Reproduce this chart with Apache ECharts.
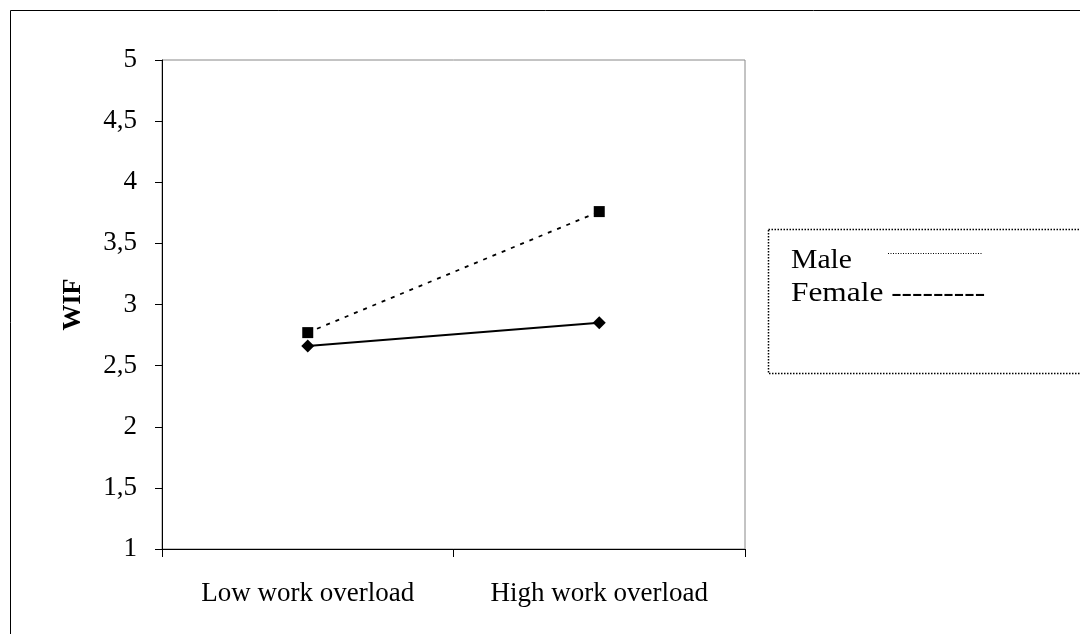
<!DOCTYPE html>
<html>
<head>
<meta charset="utf-8">
<script src="https://cdn.jsdelivr.net/npm/echarts@6/dist/echarts.min.js"></script>
<style>
html, body { margin: 0; padding: 0; background: #fff; }
#chart { width: 1080px; height: 634px; }
</style>
</head>
<body>
<div id="chart"></div>
<script>
const categories = ['Low work overload', 'High work overload'];
const maleValues = [2.66, 2.85];
const femaleValues = [2.77, 3.76];
const yTicks = [1, 1.5, 2, 2.5, 3, 3.5, 4, 4.5, 5];

const font = '"Liberation Serif", "DejaVu Serif", serif';
const chart = echarts.init(document.getElementById('chart'));

const option = {
    animation: false,
    backgroundColor: '#fff',
    grid: {
        left: 162,
        top: 60,
        right: 335,
        bottom: 85,
        show: true,
        borderColor: '#888',
        borderWidth: 1
    },
    xAxis: {
        type: 'category',
        data: categories,
        boundaryGap: true,
        axisLine: { lineStyle: { color: '#000', width: 1 } },
        axisTick: { show: true, length: 8, lineStyle: { color: '#000' } },
        axisLabel: { color: '#000', fontFamily: font, fontSize: 27, margin: 31 },
        splitLine: { show: false }
    },
    yAxis: {
        type: 'value',
        min: 1,
        max: 5,
        interval: 0.5,
        name: 'WIF',
        nameLocation: 'middle',
        nameGap: 76,
        nameTextStyle: { color: '#000', fontFamily: font, fontSize: 26, fontWeight: 'bold' },
        axisLine: { show: true, lineStyle: { color: '#000', width: 1 } },
        axisTick: { show: true, length: 7, lineStyle: { color: '#000' } },
        axisLabel: {
            color: '#000',
            fontFamily: font,
            fontSize: 27,
            margin: 25,
            formatter: v => yTicks.includes(v) ? String(v).replace('.', ',') : ''
        },
        splitLine: { show: false }
    },
    series: [
        {
            name: 'Male',
            type: 'line',
            data: maleValues,
            symbol: 'diamond',
            symbolSize: 13,
            itemStyle: { color: '#000' },
            lineStyle: { color: '#000', width: 2 }
        },
        {
            name: 'Female',
            type: 'line',
            data: femaleValues,
            symbol: 'rect',
            symbolSize: 11,
            itemStyle: { color: '#000' },
            lineStyle: { color: '#000', width: 1.8, type: [4, 6] }
        }
    ],
    graphic: [
        {
            type: 'rect',
            shape: { x: 10.5, y: 10.5, width: 1200, height: 800 },
            style: { fill: 'none', stroke: '#000', lineWidth: 1 },
            silent: true
        },
        {
            type: 'rect',
            shape: { x: 768.5, y: 229.5, width: 400, height: 144 },
            style: { fill: '#fff', stroke: '#000', lineWidth: 1.5, lineDash: [1.5, 1.5] },
            silent: true
        },
        {
            type: 'text',
            x: 791,
            y: 247,
            scaleX: 1.06,
            style: { text: 'Male', fill: '#000', font: '28px ' + font }
        },
        {
            type: 'line',
            shape: { x1: 888, y1: 253.5, x2: 983, y2: 253.5 },
            style: { stroke: '#000', lineWidth: 1, lineDash: [1, 1.5] },
            silent: true
        },
        {
            type: 'text',
            x: 791,
            y: 280,
            scaleX: 1.12,
            style: { text: 'Female ---------', fill: '#000', font: '28px ' + font }
        }
    ]
};

chart.setOption(option);
</script>
</body>
</html>
